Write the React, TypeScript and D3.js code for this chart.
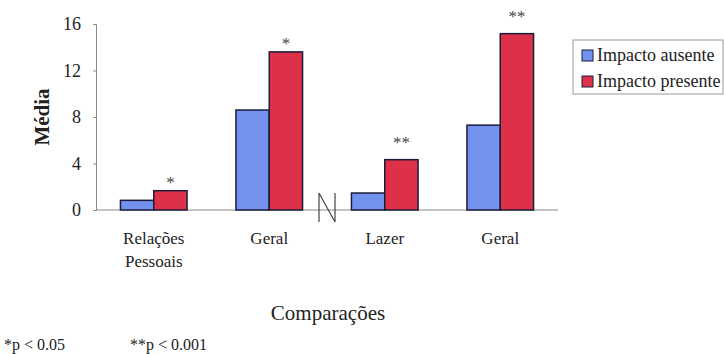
import React, { useEffect, useRef } from "react";
import * as d3 from "d3";

const categories = ["Relações Pessoais", "Geral", "Lazer", "Geral "];
const ausente = [0.83, 8.6, 1.46, 7.3];
const presente = [1.66, 13.6, 4.33, 15.17];
const signif = ["*", "*", "**", "**"];
const yTicks = [0, 4, 8, 12, 16];
const seriesNames = ["Impacto ausente", "Impacto presente"];
const colors = ["#7391ee", "#dc3149"];

const font = "Liberation Serif, Times New Roman, serif";

export default function App() {
  const ref = useRef<SVGSVGElement>(null);

  useEffect(() => {
    const svg = d3.select(ref.current);
    svg.selectAll("*").remove();

    const margin = { top: 24, left: 96 };
    const width = 462;
    const height = 186;

    const g = svg.append("g")
      .style("font-family", font)
      .attr("transform", "translate(" + margin.left + "," + margin.top + ")");

    // scales
    const x = d3.scaleBand<string>()
      .domain(categories)
      .range([0, width])
      .paddingInner(0.4234)
      .paddingOuter(0.2117);
    const x1 = d3.scaleBand<number>()
      .domain([0, 1])
      .range([0, x.bandwidth()]);
    const y = d3.scaleLinear().domain([0, 16]).range([height, 0]);

    // y axis
    const yAxis = g.append("g")
      .call(d3.axisLeft(y).tickValues(yTicks).tickSize(3).tickPadding(12));
    yAxis.attr("font-family", null).attr("font-size", null);
    yAxis.select(".domain").attr("stroke", "#8a8a8a");
    yAxis.selectAll(".tick line").attr("stroke", "#8a8a8a");
    yAxis.selectAll(".tick text")
      .style("font-family", font)
      .style("font-size", "18px")
      .attr("fill", "#222");

    // x baseline
    g.append("line")
      .attr("x1", 0).attr("x2", width)
      .attr("y1", height).attr("y2", height)
      .attr("stroke", "#8a8a8a");

    // bars
    const groups = g.selectAll(".grp")
      .data(categories)
      .enter().append("g")
      .attr("transform", d => "translate(" + x(d) + ",0)");

    groups.each(function (d, i) {
      const vals = [ausente[i], presente[i]];
      d3.select(this).selectAll("rect")
        .data(vals)
        .enter().append("rect")
        .attr("x", (v, j) => x1(j)!)
        .attr("y", v => y(v))
        .attr("width", x1.bandwidth())
        .attr("height", v => height - y(v))
        .attr("fill", (v, j) => colors[j])
        .attr("stroke", "#1c1c3a")
        .attr("stroke-width", 1.5);
      d3.select(this).append("text")
        .attr("x", x1(1)! + x1.bandwidth() / 2)
        .attr("y", y(presente[i]) - (signif[i].length > 1 ? 12 : 3))
        .attr("text-anchor", "middle")
        .style("font-family", font)
        .style("font-size", "17px")
        .attr("fill", "#444")
        .text(signif[i]);
    });

    // category labels
    const labels = g.append("g");
    categories.forEach(c => {
      const t = labels.append("text")
        .attr("x", x(c)! + x.bandwidth() / 2)
        .attr("y", height + 34)
        .attr("text-anchor", "middle")
        .style("font-family", font)
        .style("font-size", "17px")
        .attr("fill", "#222");
      c.trim().split(" ").forEach((w, k) => {
        t.append("tspan")
          .attr("x", x(c)! + x.bandwidth() / 2)
          .attr("dy", k === 0 ? 0 : 23)
          .text(w);
      });
    });

    // axis break mark
    const bx = (x(categories[1])! + x.bandwidth() + x(categories[2])!) / 2;
    g.append("path")
      .attr("d", d3.line()([
        [bx - 8, height + 12], [bx - 8, height - 17],
        [bx + 8, height + 12], [bx + 8, height - 17]
      ]))
      .attr("fill", "none")
      .attr("stroke", "#444")
      .attr("stroke-width", 1.2);

    // y title
    svg.append("text")
      .attr("transform", "translate(49," + (margin.top + height / 2) + ") rotate(-90)")
      .attr("text-anchor", "middle")
      .style("font-family", font)
      .style("font-weight", "bold")
      .style("font-size", "21px")
      .attr("fill", "#222")
      .text("Média");

    // x title
    svg.append("text")
      .attr("x", 328).attr("y", 320)
      .attr("text-anchor", "middle")
      .style("font-family", font)
      .style("font-size", "21px")
      .attr("fill", "#222")
      .text("Comparações");

    // footnotes
    svg.append("text")
      .attr("x", 4).attr("y", 350)
      .style("font-family", font).style("font-size", "16px").attr("fill", "#222")
      .text("*p < 0.05");
    svg.append("text")
      .attr("x", 130).attr("y", 350)
      .style("font-family", font).style("font-size", "16px").attr("fill", "#222")
      .text("**p < 0.001");

    // legend
    const lg = svg.append("g").attr("transform", "translate(573,40)");
    lg.append("rect")
      .attr("width", 150).attr("height", 54)
      .attr("fill", "white").attr("stroke", "#999");
    seriesNames.forEach((s, i) => {
      lg.append("rect")
        .attr("x", 9).attr("y", 10 + i * 26)
        .attr("width", 11).attr("height", 11)
        .attr("fill", colors[i]).attr("stroke", "#1c1c3a");
      lg.append("text")
        .attr("x", 24).attr("y", 21 + i * 26)
        .style("font-family", font).style("font-size", "18px").attr("fill", "#222")
        .text(s);
    });
  }, []);

  return (
    <svg ref={ref} width={724} height={354}
      style={{ position: "absolute", left: 0, top: 0, background: "white" }} />
  );
}
